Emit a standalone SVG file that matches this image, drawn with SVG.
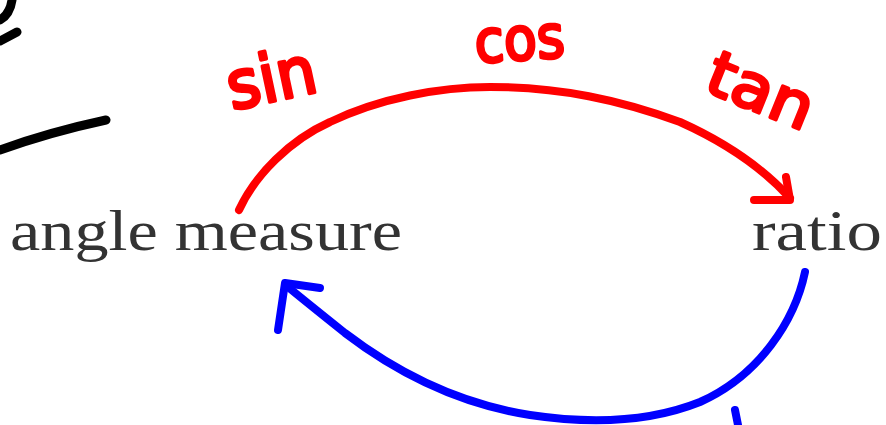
<svg xmlns="http://www.w3.org/2000/svg" width="886" height="425" viewBox="0 0 886 425">
<style>
.node{font-family:"Liberation Serif","DejaVu Serif",serif;font-size:58px;fill:#333}
.hand{font-family:"DejaVu Sans","Noto Sans",sans-serif;font-size:46px;fill:#f00;stroke:#f00;stroke-width:2.5;stroke-linejoin:round}
.ink{fill:none;stroke-linecap:round;stroke-linejoin:round}
.red{stroke:#f00;stroke-width:8}
.blue{stroke:#00f;stroke-width:8}
.black{stroke:#000;stroke-width:9}
</style>
<rect width="886" height="425" fill="#fff"/>
<g id="scribbles">
<path class="ink black" d="M0,20 Q10,14 12,0"/>
<path class="ink black" d="M0,41 L17,32"/>
<path class="ink black" d="M0,150 Q50,132 106,120"/>
</g>
<g id="node-angle"><text class="node" x="10" y="250" textLength="392" lengthAdjust="spacingAndGlyphs">angle measure</text></g>
<g id="node-ratio"><text class="node" x="752" y="250" textLength="130" lengthAdjust="spacingAndGlyphs">ratio</text></g>
<g id="connectors">
<path class="ink red" d="M239,210 C255,175 290,140 330,122 C380,98 440,87 490,87 C560,87 620,100 680,122 C720,140 760,165 790,198"/>
<path class="ink red" d="M754,200 L790,200 L786,177"/>
<path class="ink blue" d="M805,272 C795,320 760,375 700,402 C650,422 590,424 530,415 C460,404 400,375 345,333 C320,313 300,297 288,287"/>
<path class="ink blue" d="M320,288 L285,283 L278,330"/>
<path class="ink blue" d="M735,410 L738,425"/>
</g>
<g id="labels">
<text class="hand" transform="translate(232,110) rotate(-12) scale(1,1.45)" textLength="90" lengthAdjust="spacingAndGlyphs">sin</text>
<text class="hand" transform="translate(476,63) rotate(-4) scale(1,1.3)" textLength="90" lengthAdjust="spacingAndGlyphs">cos</text>
<text class="hand" transform="translate(702,90) rotate(22) scale(1,1.35)" textLength="110" lengthAdjust="spacingAndGlyphs">tan</text>
</g>
</svg>
